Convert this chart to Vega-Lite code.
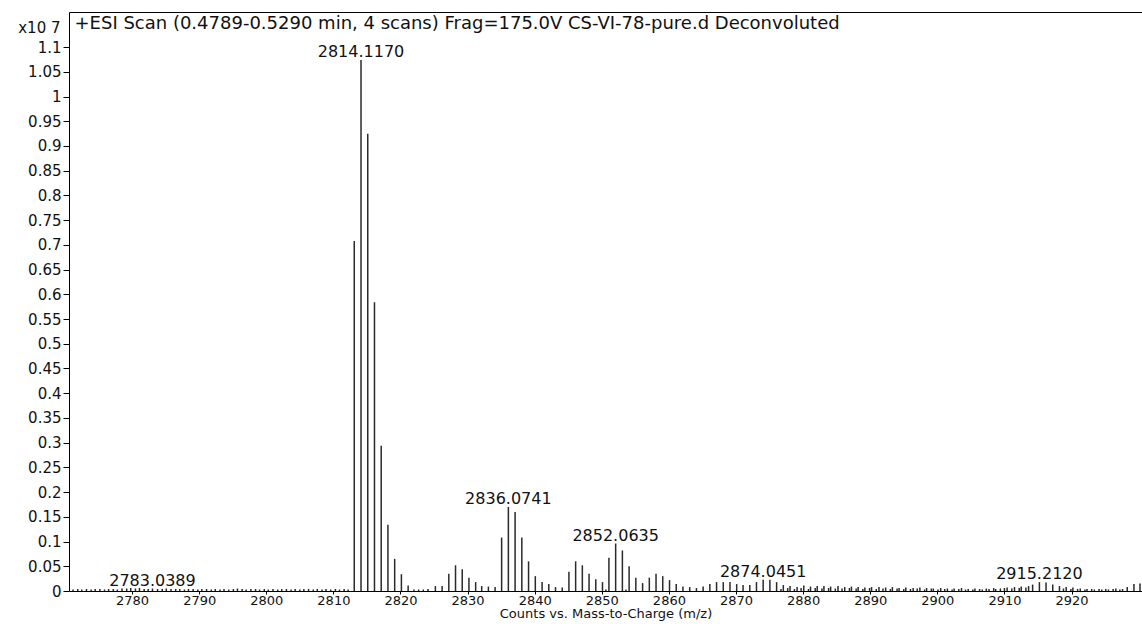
{
  "$schema": "https://vega.github.io/schema/vega-lite/v6.json",
  "width": 1073,
  "height": 579,
  "autosize": {"type": "none"},
  "padding": {"left": 69, "top": 12, "right": 0, "bottom": 33},
  "background": "white",
  "config": {
    "font": "DejaVu Sans",
    "view": {"stroke": null},
    "axis": {"grid": false, "domainColor": "#000", "tickColor": "#000", "labelColor": "#111", "titleColor": "#111", "labelFontSize": 15, "titleFontSize": 15, "titleFontWeight": "normal", "domainWidth": 1, "tickWidth": 1}
  },
  "data": {"values": [
    {"mz": 2771.2, "intensity": 0.003}, {"mz": 2771.9, "intensity": 0.004}, {"mz": 2772.5, "intensity": 0.003},
    {"mz": 2773.2, "intensity": 0.004}, {"mz": 2773.9, "intensity": 0.003}, {"mz": 2774.5, "intensity": 0.004},
    {"mz": 2775.2, "intensity": 0.004}, {"mz": 2775.9, "intensity": 0.003}, {"mz": 2776.5, "intensity": 0.004},
    {"mz": 2777.2, "intensity": 0.004}, {"mz": 2777.8, "intensity": 0.003}, {"mz": 2778.5, "intensity": 0.005},
    {"mz": 2779.2, "intensity": 0.005}, {"mz": 2779.8, "intensity": 0.006}, {"mz": 2780.5, "intensity": 0.005},
    {"mz": 2781.1, "intensity": 0.006}, {"mz": 2781.8, "intensity": 0.004}, {"mz": 2782.4, "intensity": 0.004},
    {"mz": 2783.0389, "intensity": 0.005, "labeled": true}, {"mz": 2783.8, "intensity": 0.004}, {"mz": 2784.5, "intensity": 0.004},
    {"mz": 2785.1, "intensity": 0.005}, {"mz": 2785.8, "intensity": 0.004}, {"mz": 2786.5, "intensity": 0.004},
    {"mz": 2787.1, "intensity": 0.004}, {"mz": 2787.8, "intensity": 0.003}, {"mz": 2788.4, "intensity": 0.004},
    {"mz": 2789.1, "intensity": 0.004}, {"mz": 2789.8, "intensity": 0.003}, {"mz": 2790.4, "intensity": 0.004},
    {"mz": 2791.1, "intensity": 0.004}, {"mz": 2791.8, "intensity": 0.003}, {"mz": 2792.4, "intensity": 0.004},
    {"mz": 2793.1, "intensity": 0.003}, {"mz": 2793.7, "intensity": 0.004}, {"mz": 2794.4, "intensity": 0.003},
    {"mz": 2795.1, "intensity": 0.004}, {"mz": 2795.7, "intensity": 0.005}, {"mz": 2796.4, "intensity": 0.004},
    {"mz": 2797.0, "intensity": 0.003}, {"mz": 2797.7, "intensity": 0.004}, {"mz": 2798.4, "intensity": 0.004},
    {"mz": 2799.0, "intensity": 0.003}, {"mz": 2799.7, "intensity": 0.004}, {"mz": 2800.3, "intensity": 0.003},
    {"mz": 2801.0, "intensity": 0.004}, {"mz": 2801.7, "intensity": 0.003}, {"mz": 2802.3, "intensity": 0.004},
    {"mz": 2803.0, "intensity": 0.004}, {"mz": 2803.7, "intensity": 0.003}, {"mz": 2804.3, "intensity": 0.004},
    {"mz": 2805.0, "intensity": 0.003}, {"mz": 2805.6, "intensity": 0.004}, {"mz": 2806.3, "intensity": 0.004},
    {"mz": 2807.0, "intensity": 0.003}, {"mz": 2807.6, "intensity": 0.004}, {"mz": 2808.3, "intensity": 0.003},
    {"mz": 2808.9, "intensity": 0.004}, {"mz": 2809.6, "intensity": 0.003}, {"mz": 2810.3, "intensity": 0.004},
    {"mz": 2810.9, "intensity": 0.003}, {"mz": 2811.6, "intensity": 0.004}, {"mz": 2812.2, "intensity": 0.003},
    {"mz": 2813.110, "intensity": 0.708},
    {"mz": 2814.1170, "intensity": 1.074, "labeled": true},
    {"mz": 2815.120, "intensity": 0.925},
    {"mz": 2816.123, "intensity": 0.584},
    {"mz": 2817.126, "intensity": 0.294},
    {"mz": 2818.129, "intensity": 0.134},
    {"mz": 2819.132, "intensity": 0.065},
    {"mz": 2820.135, "intensity": 0.034},
    {"mz": 2821.138, "intensity": 0.011},
    {"mz": 2822.0, "intensity": 0.003}, {"mz": 2822.7, "intensity": 0.003}, {"mz": 2823.4, "intensity": 0.003},
    {"mz": 2824.1, "intensity": 0.004},
    {"mz": 2825.2, "intensity": 0.010}, {"mz": 2826.2, "intensity": 0.010}, {"mz": 2827.2, "intensity": 0.035},
    {"mz": 2828.2, "intensity": 0.052}, {"mz": 2829.2, "intensity": 0.044}, {"mz": 2830.2, "intensity": 0.027},
    {"mz": 2831.2, "intensity": 0.018}, {"mz": 2832.1, "intensity": 0.010}, {"mz": 2833.1, "intensity": 0.009},
    {"mz": 2834.1, "intensity": 0.008},
    {"mz": 2835.071, "intensity": 0.108},
    {"mz": 2836.0741, "intensity": 0.170, "labeled": true},
    {"mz": 2837.077, "intensity": 0.160},
    {"mz": 2838.080, "intensity": 0.108},
    {"mz": 2839.083, "intensity": 0.060},
    {"mz": 2840.09, "intensity": 0.030}, {"mz": 2841.1, "intensity": 0.018}, {"mz": 2842.1, "intensity": 0.014},
    {"mz": 2843.1, "intensity": 0.008}, {"mz": 2844.1, "intensity": 0.007},
    {"mz": 2845.1, "intensity": 0.039}, {"mz": 2846.1, "intensity": 0.060}, {"mz": 2847.1, "intensity": 0.052},
    {"mz": 2848.1, "intensity": 0.035}, {"mz": 2849.1, "intensity": 0.024}, {"mz": 2850.1, "intensity": 0.018},
    {"mz": 2850.6, "intensity": 0.003},
    {"mz": 2851.06, "intensity": 0.067},
    {"mz": 2852.0635, "intensity": 0.096, "labeled": true},
    {"mz": 2853.066, "intensity": 0.082},
    {"mz": 2853.6, "intensity": 0.003},
    {"mz": 2854.07, "intensity": 0.050}, {"mz": 2855.07, "intensity": 0.027}, {"mz": 2856.08, "intensity": 0.016},
    {"mz": 2857.08, "intensity": 0.027}, {"mz": 2858.08, "intensity": 0.035}, {"mz": 2859.08, "intensity": 0.030},
    {"mz": 2860.09, "intensity": 0.022}, {"mz": 2861.09, "intensity": 0.014}, {"mz": 2862.09, "intensity": 0.009},
    {"mz": 2863.1, "intensity": 0.008}, {"mz": 2864.1, "intensity": 0.006}, {"mz": 2865.1, "intensity": 0.009},
    {"mz": 2866.1, "intensity": 0.014}, {"mz": 2867.1, "intensity": 0.018}, {"mz": 2868.1, "intensity": 0.018},
    {"mz": 2869.1, "intensity": 0.018}, {"mz": 2870.1, "intensity": 0.014}, {"mz": 2871.05, "intensity": 0.012},
    {"mz": 2872.05, "intensity": 0.012}, {"mz": 2873.05, "intensity": 0.018},
    {"mz": 2874.0451, "intensity": 0.023, "labeled": true},
    {"mz": 2875.05, "intensity": 0.023}, {"mz": 2876.05, "intensity": 0.018},
    {"mz": 2876.7, "intensity": 0.004}, {"mz": 2877.05, "intensity": 0.012}, {"mz": 2877.7, "intensity": 0.006},
    {"mz": 2878.05, "intensity": 0.010}, {"mz": 2878.7, "intensity": 0.004}, {"mz": 2879.1, "intensity": 0.008},
    {"mz": 2879.7, "intensity": 0.006}, {"mz": 2880.1, "intensity": 0.011}, {"mz": 2880.8, "intensity": 0.004},
    {"mz": 2881.1, "intensity": 0.009}, {"mz": 2881.8, "intensity": 0.006}, {"mz": 2882.1, "intensity": 0.010},
    {"mz": 2882.8, "intensity": 0.005}, {"mz": 2883.1, "intensity": 0.010}, {"mz": 2883.8, "intensity": 0.006},
    {"mz": 2884.1, "intensity": 0.009}, {"mz": 2884.8, "intensity": 0.005}, {"mz": 2885.2, "intensity": 0.010},
    {"mz": 2885.8, "intensity": 0.005}, {"mz": 2886.2, "intensity": 0.008}, {"mz": 2886.9, "intensity": 0.006},
    {"mz": 2887.2, "intensity": 0.009}, {"mz": 2887.9, "intensity": 0.005}, {"mz": 2888.2, "intensity": 0.008},
    {"mz": 2888.9, "intensity": 0.004}, {"mz": 2889.2, "intensity": 0.007}, {"mz": 2889.9, "intensity": 0.006},
    {"mz": 2890.2, "intensity": 0.008}, {"mz": 2890.9, "intensity": 0.004}, {"mz": 2891.3, "intensity": 0.008},
    {"mz": 2891.9, "intensity": 0.005}, {"mz": 2892.3, "intensity": 0.007}, {"mz": 2893.0, "intensity": 0.004},
    {"mz": 2893.3, "intensity": 0.008}, {"mz": 2894.0, "intensity": 0.005}, {"mz": 2894.3, "intensity": 0.006},
    {"mz": 2895.0, "intensity": 0.004}, {"mz": 2895.3, "intensity": 0.007}, {"mz": 2896.0, "intensity": 0.004},
    {"mz": 2896.4, "intensity": 0.006}, {"mz": 2897.0, "intensity": 0.005}, {"mz": 2897.4, "intensity": 0.007},
    {"mz": 2898.1, "intensity": 0.003}, {"mz": 2898.4, "intensity": 0.006}, {"mz": 2899.1, "intensity": 0.005},
    {"mz": 2899.4, "intensity": 0.005}, {"mz": 2900.1, "intensity": 0.003}, {"mz": 2900.5, "intensity": 0.006},
    {"mz": 2901.1, "intensity": 0.004}, {"mz": 2901.5, "intensity": 0.005}, {"mz": 2902.2, "intensity": 0.003},
    {"mz": 2902.5, "intensity": 0.005}, {"mz": 2903.2, "intensity": 0.004}, {"mz": 2903.6, "intensity": 0.006},
    {"mz": 2904.2, "intensity": 0.003}, {"mz": 2904.6, "intensity": 0.004}, {"mz": 2905.3, "intensity": 0.003},
    {"mz": 2905.6, "intensity": 0.005}, {"mz": 2906.3, "intensity": 0.004}, {"mz": 2906.7, "intensity": 0.003},
    {"mz": 2907.3, "intensity": 0.005}, {"mz": 2907.7, "intensity": 0.004}, {"mz": 2908.4, "intensity": 0.006},
    {"mz": 2908.7, "intensity": 0.004}, {"mz": 2909.4, "intensity": 0.005}, {"mz": 2910.0, "intensity": 0.006},
    {"mz": 2910.4, "intensity": 0.007}, {"mz": 2911.1, "intensity": 0.005}, {"mz": 2911.5, "intensity": 0.008},
    {"mz": 2912.2, "intensity": 0.006}, {"mz": 2912.5, "intensity": 0.009}, {"mz": 2913.2, "intensity": 0.007},
    {"mz": 2913.6, "intensity": 0.010}, {"mz": 2914.2, "intensity": 0.013},
    {"mz": 2915.2120, "intensity": 0.018, "labeled": true},
    {"mz": 2916.2, "intensity": 0.017}, {"mz": 2917.2, "intensity": 0.013}, {"mz": 2918.2, "intensity": 0.010},
    {"mz": 2918.8, "intensity": 0.005}, {"mz": 2919.2, "intensity": 0.008}, {"mz": 2919.9, "intensity": 0.004},
    {"mz": 2920.2, "intensity": 0.007}, {"mz": 2920.9, "intensity": 0.004}, {"mz": 2921.3, "intensity": 0.005},
    {"mz": 2922.0, "intensity": 0.003}, {"mz": 2922.3, "intensity": 0.004}, {"mz": 2923.0, "intensity": 0.004},
    {"mz": 2923.4, "intensity": 0.003}, {"mz": 2924.1, "intensity": 0.004}, {"mz": 2924.5, "intensity": 0.003},
    {"mz": 2925.1, "intensity": 0.004}, {"mz": 2925.5, "intensity": 0.003}, {"mz": 2926.2, "intensity": 0.004},
    {"mz": 2926.6, "intensity": 0.005}, {"mz": 2927.2, "intensity": 0.003}, {"mz": 2927.6, "intensity": 0.004},
    {"mz": 2928.3, "intensity": 0.008}, {"mz": 2929.3, "intensity": 0.014}, {"mz": 2930.2, "intensity": 0.015}
  ]},
  "encoding": {
    "y": {
      "field": "intensity", "type": "quantitative",
      "scale": {"domain": [0, 1.171], "nice": false},
      "axis": {
        "values": [0, 0.05, 0.1, 0.15, 0.2, 0.25, 0.3, 0.35, 0.4, 0.45, 0.5, 0.55, 0.6, 0.65, 0.7, 0.75, 0.8, 0.85, 0.9, 0.95, 1, 1.05, 1.1],
        "format": "~g", "tickSize": 6, "labelPadding": 2, "labelOverlap": false,
        "title": "x10 7", "titleAngle": 0, "titleAlign": "right", "titleBaseline": "middle",
        "titleX": -9, "titleY": 15, "titleFontSize": 15
      }
    }
  },
  "layer": [
    {
      "mark": {"type": "rule", "stroke": "#2a2a2a", "strokeWidth": 1.5, "clip": true},
      "encoding": {
        "x": {
          "field": "mz", "type": "quantitative",
          "scale": {"domain": [2770.6, 2930.5], "nice": false, "zero": false},
          "axis": {
            "orient": "bottom",
            "values": [2780, 2790, 2800, 2810, 2820, 2830, 2840, 2850, 2860, 2870, 2880, 2890, 2900, 2910, 2920],
            "format": "d", "tickSize": 3, "labelPadding": 0, "labelFlush": false, "labelFontSize": 13,
            "title": "Counts vs. Mass-to-Charge (m/z)", "titleFontSize": 13, "titlePadding": 0
          }
        },
        "y2": {"datum": 0}
      }
    },
    {
      "transform": [{"filter": "datum.labeled === true"}],
      "mark": {"type": "text", "baseline": "alphabetic", "align": "center", "dy": -3, "fontSize": 16, "color": "#111"},
      "encoding": {
        "x": {
          "field": "mz", "type": "quantitative",
          "axis": {
            "orient": "top", "labels": false, "ticks": false, "domain": true,
            "title": "+ESI Scan (0.4789-0.5290 min, 4 scans) Frag=175.0V CS-VI-78-pure.d  Deconvoluted",
            "titleAnchor": "start", "titleAlign": "left", "titleBaseline": "alphabetic",
            "titleX": 5, "titleY": 16, "titleFontSize": 18
          }
        },
        "text": {"field": "mz", "type": "quantitative", "format": ".4f"}
      }
    }
  ]
}
